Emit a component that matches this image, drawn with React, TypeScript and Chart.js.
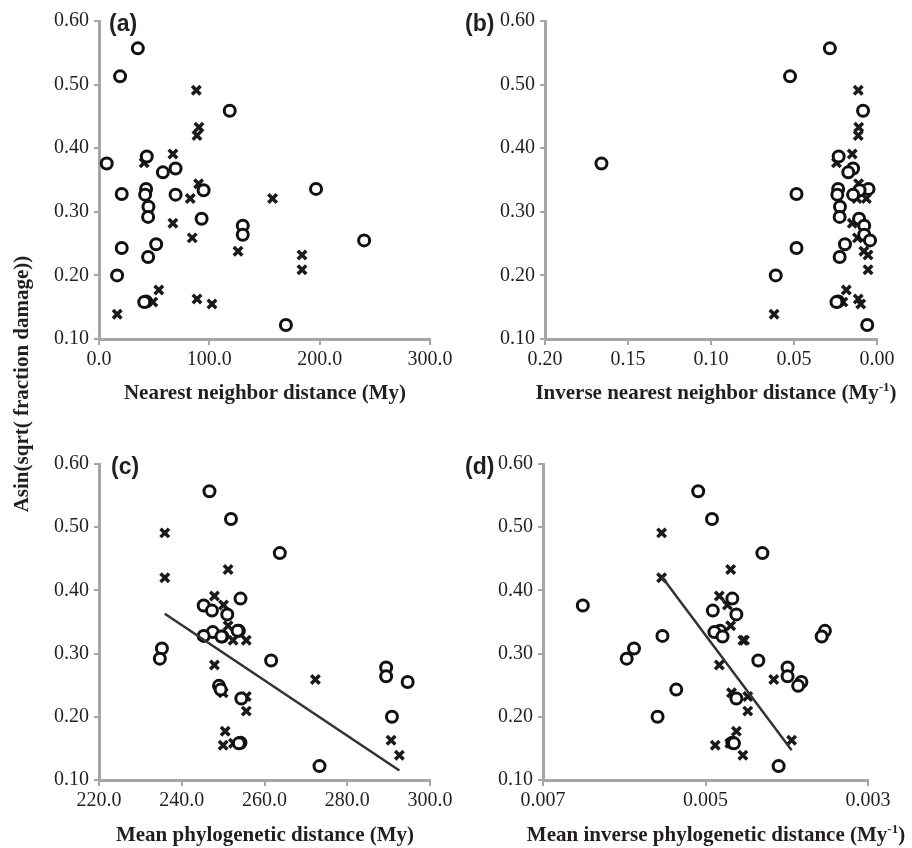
import React, { useEffect, useRef } from "react";
import { Chart, registerables } from "chart.js";
Chart.register(...registerables);

// ---------- data ----------
// Shared response values: Asin(sqrt(fraction damage))
const circleY = [0.557, 0.513, 0.459, 0.387, 0.376, 0.368, 0.362, 0.336, 0.336, 0.334, 0.328, 0.327, 0.327, 0.308, 0.292, 0.289, 0.278, 0.264, 0.255, 0.249, 0.243, 0.229, 0.200, 0.159, 0.158, 0.122];
const crossY = [0.491, 0.433, 0.420, 0.391, 0.377, 0.344, 0.321, 0.321, 0.282, 0.259, 0.238, 0.232, 0.209, 0.177, 0.163, 0.158, 0.155, 0.139];

// (a) Nearest neighbor distance (My)
const circleNN = [35.2, 19.1, 118.5, 43.3, 7.0, 69.4, 57.9, 42.7, 196.7, 94.8, 20.6, 41.8, 69.4, 44.8, 44.5, 93.0, 130.3, 130.3, 240.3, 51.8, 20.6, 44.5, 16.4, 42.7, 41.0, 169.4];
const crossNN = [88.2, 90.6, 88.8, 67.0, 40.9, 90.3, 82.7, 157.3, 67.0, 84.5, 126.0, 184.0, 184.0, 54.2, 88.8, 48.8, 102.4, 16.5];

// (b) Inverse nearest neighbor distance (My^-1)
const circleInvNN = [0.0284, 0.0524, 0.0084, 0.0231, 0.166, 0.0144, 0.0173, 0.0234, 0.0051, 0.0105, 0.0485, 0.0239, 0.0144, 0.0223, 0.0225, 0.0108, 0.0077, 0.0077, 0.0042, 0.0193, 0.0485, 0.0225, 0.0610, 0.0234, 0.0244, 0.0059];
const crossInvNN = [0.0113, 0.0110, 0.0113, 0.0149, 0.0244, 0.0111, 0.0121, 0.0064, 0.0149, 0.0118, 0.0079, 0.0054, 0.0054, 0.0185, 0.0113, 0.0205, 0.0098, 0.0620];

// (c) Mean phylogenetic distance (My)
const circleMPD = [246.7, 251.9, 263.7, 254.2, 245.3, 247.3, 251.0, 253.8, 253.5, 247.5, 245.3, 249.8, 249.6, 235.2, 234.7, 261.6, 289.4, 289.4, 294.6, 249.0, 249.4, 254.4, 290.8, 254.2, 253.8, 273.3];
const crossMPD = [235.9, 251.2, 235.9, 247.9, 250.1, 251.2, 252.4, 255.6, 247.9, 272.3, 250.0, 255.6, 255.6, 250.5, 290.6, 252.5, 250.0, 292.6];
const trendMPDx = [235.9, 292.6];
const trendMPDy = [0.363, 0.115];

// (d) Mean inverse phylogenetic distance (My^-1)
const circleMIPD = [0.00509, 0.00492, 0.00430, 0.00467, 0.00651, 0.00491, 0.00462, 0.00482, 0.00353, 0.00489, 0.00553, 0.00479, 0.00357, 0.00588, 0.00597, 0.00435, 0.00399, 0.00399, 0.00382, 0.00386, 0.00536, 0.00462, 0.00559, 0.00467, 0.00465, 0.00410];
const crossMIPD = [0.00554, 0.00469, 0.00554, 0.00483, 0.00473, 0.00469, 0.00454, 0.00452, 0.00483, 0.00416, 0.00468, 0.00448, 0.00448, 0.00462, 0.00394, 0.00470, 0.00488, 0.00454];
const trendMIPDx = [0.00554, 0.00394];
const trendMIPDy = [0.422, 0.147];

// axis tick settings
const yTicks = { min: 0.1, max: 0.6, step: 0.1, dec: 2 };
const xTicksA = { min: 0, max: 300, step: 100, dec: 1 };
const xTicksB = { min: 0, max: 0.2, step: 0.05, dec: 2 };
const xTicksC = { min: 220, max: 300, step: 20, dec: 1 };
const xTicksD = { min: 0.003, max: 0.007, step: 0.002, dec: 3 };

// ---------- style / layout ----------
const W = 912;
const H = 848;
const AXIS_W = 45;
const AXIS_H = 40;
const SERIF = "'Liberation Serif', 'Times New Roman', serif";
const SANS = "'Liberation Sans', Arial, sans-serif";
const INK = "#231f20";
const AXIS_COLOR = "#a6a6a6";

type Area = { left: number; right: number; top: number; bottom: number };

const panels = [
  { area: { left: 99, right: 430, top: 21, bottom: 339 }, xt: xTicksA, reverse: false, cx: circleNN, kx: crossNN, tx: null, ty: null },
  { area: { left: 545, right: 877, top: 21, bottom: 339 }, xt: xTicksB, reverse: true, cx: circleInvNN, kx: crossInvNN, tx: null, ty: null },
  { area: { left: 99, right: 430, top: 464, bottom: 780 }, xt: xTicksC, reverse: false, cx: circleMPD, kx: crossMPD, tx: trendMPDx, ty: trendMPDy },
  { area: { left: 543, right: 868, top: 464, bottom: 780 }, xt: xTicksD, reverse: true, cx: circleMIPD, kx: crossMIPD, tx: trendMIPDx, ty: trendMIPDy },
];

function makeConfig(p: any): any {
  const area: Area = p.area;
  const datasets: any[] = [
    {
      label: "circles",
      data: p.cx.map((x: number, i: number) => ({ x, y: circleY[i] })),
      pointStyle: "circle",
      pointRadius: 5.5,
      pointBorderWidth: 3,
      pointBackgroundColor: "#ffffff",
      pointBorderColor: "#111111",
      order: 1,
    },
    {
      label: "crosses",
      data: p.kx.map((x: number, i: number) => ({ x, y: crossY[i] })),
      pointStyle: "crossRot",
      pointRadius: 6,
      pointBorderWidth: 3.5,
      pointBackgroundColor: "#111111",
      pointBorderColor: "#1a1a1a",
      order: 2,
    },
  ];
  if (p.tx) {
    datasets.push({
      label: "trend",
      data: p.tx.map((x: number, i: number) => ({ x, y: p.ty[i] })),
      showLine: true,
      pointRadius: 0,
      borderColor: "#333333",
      borderWidth: 2.5,
      fill: false,
      order: 0,
    });
  }
  const tickFont = { family: SERIF, size: 20 };
  return {
    type: "scatter",
    data: { datasets },
    options: {
      responsive: false,
      devicePixelRatio: 1,
      animation: false,
      events: [],
      layout: {
        padding: {
          left: area.left - AXIS_W,
          right: W - area.right,
          top: area.top,
          bottom: H - area.bottom - AXIS_H,
        },
      },
      plugins: { legend: { display: false }, tooltip: { enabled: false } },
      scales: {
        x: {
          type: "linear",
          position: "bottom",
          min: p.xt.min,
          max: p.xt.max,
          reverse: p.reverse,
          afterFit: (s: any) => {
            s.height = AXIS_H;
          },
          ticks: {
            stepSize: p.xt.step,
            autoSkip: false,
            maxRotation: 0,
            padding: 3,
            color: INK,
            font: tickFont,
            callback: (v: any) => Number(v).toFixed(p.xt.dec),
          },
          grid: { drawOnChartArea: false, drawTicks: true, tickLength: 6, color: AXIS_COLOR, lineWidth: 2 },
          border: { display: true, color: AXIS_COLOR, width: 3 },
        },
        y: {
          type: "linear",
          position: "left",
          min: yTicks.min,
          max: yTicks.max,
          afterFit: (s: any) => {
            s.width = AXIS_W;
          },
          ticks: {
            stepSize: yTicks.step,
            autoSkip: false,
            padding: 5,
            color: INK,
            font: tickFont,
            callback: (v: any) => Number(v).toFixed(yTicks.dec),
          },
          grid: { drawOnChartArea: false, drawTicks: true, tickLength: 5, color: AXIS_COLOR, lineWidth: 2 },
          border: { display: true, color: AXIS_COLOR, width: 3 },
        },
      },
    },
  };
}

const titleStyle = (cx: number, cy: number): React.CSSProperties => ({
  position: "absolute",
  left: cx - 250,
  top: cy - 12,
  width: 500,
  height: 24,
  lineHeight: "24px",
  textAlign: "center",
  fontFamily: SERIF,
  fontWeight: "bold",
  fontSize: 21,
  color: INK,
  whiteSpace: "nowrap",
});

const labelStyle = (left: number, cy: number): React.CSSProperties => ({
  position: "absolute",
  left,
  top: cy - 13,
  height: 26,
  lineHeight: "26px",
  fontFamily: SANS,
  fontWeight: "bold",
  fontSize: 23,
  color: INK,
  whiteSpace: "nowrap",
});

const supStyle: React.CSSProperties = { fontSize: 13, verticalAlign: "top", lineHeight: "14px" };

export default function App() {
  const r0 = useRef<HTMLCanvasElement>(null);
  const r1 = useRef<HTMLCanvasElement>(null);
  const r2 = useRef<HTMLCanvasElement>(null);
  const r3 = useRef<HTMLCanvasElement>(null);

  useEffect(() => {
    const refs = [r0, r1, r2, r3];
    const charts = refs.map((r, i) => new Chart(r.current as HTMLCanvasElement, makeConfig(panels[i])));
    return () => charts.forEach((c) => c.destroy());
  }, []);

  const canvasStyle: React.CSSProperties = { position: "absolute", left: 0, top: 0 };

  return (
    <div style={{ position: "absolute", left: 0, top: 0, width: W, height: H, background: "#ffffff", overflow: "hidden" }}>
      <canvas ref={r0} width={W} height={H} style={canvasStyle} />
      <canvas ref={r1} width={W} height={H} style={canvasStyle} />
      <canvas ref={r2} width={W} height={H} style={canvasStyle} />
      <canvas ref={r3} width={W} height={H} style={canvasStyle} />

      <div style={labelStyle(109, 23)}>(a)</div>
      <div style={labelStyle(465, 23)}>(b)</div>
      <div style={labelStyle(111, 466)}>(c)</div>
      <div style={labelStyle(465, 466)}>(d)</div>

      <div style={titleStyle(265, 392)}>Nearest neighbor distance (My)</div>
      <div style={titleStyle(716, 392)}>
        Inverse nearest neighbor distance (My<sup style={supStyle}>-1</sup>)
      </div>
      <div style={titleStyle(265, 834)}>Mean phylogenetic distance (My)</div>
      <div style={titleStyle(716, 834)}>
        Mean inverse phylogenetic distance (My<sup style={supStyle}>-1</sup>)
      </div>

      <div
        style={{
          position: "absolute",
          left: 21 - 200,
          top: 384 - 12,
          width: 400,
          height: 24,
          lineHeight: "24px",
          textAlign: "center",
          fontFamily: SERIF,
          fontWeight: "bold",
          fontSize: 21,
          color: INK,
          whiteSpace: "nowrap",
          transform: "rotate(-90deg)",
          transformOrigin: "50% 50%",
        }}
      >
        Asin(sqrt( fraction damage))
      </div>
    </div>
  );
}
